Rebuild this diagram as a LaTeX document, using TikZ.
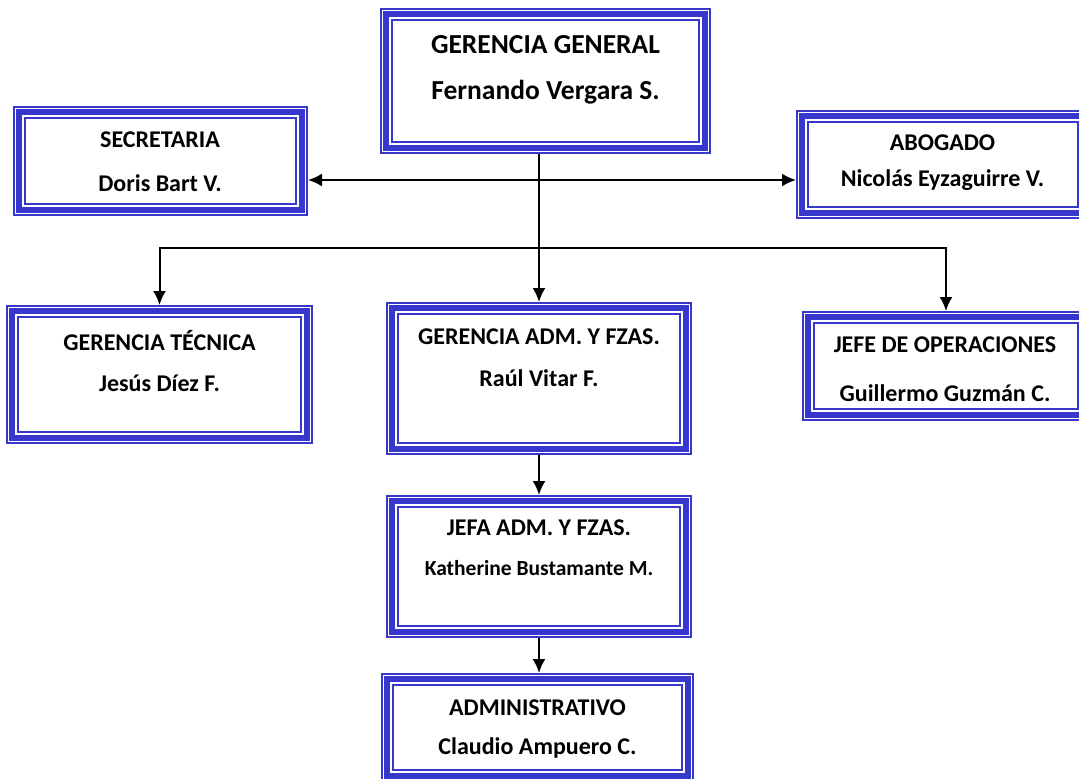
\documentclass[tikz,border=0pt]{standalone}
\usepackage{fontspec}
\setmainfont{Carlito}
\usetikzlibrary{arrows.meta}
\definecolor{azul}{RGB}{55,55,205}

\begin{document}
\begin{tikzpicture}[x=1pt, y=-1pt,
    marco/.style={draw=azul, line width=2pt, inner sep=0pt},
    cargo/.style={font=\bfseries\fontsize{24}{28}\selectfont, inner sep=0pt},
    mayor/.style={font=\bfseries\fontsize{27.5}{32}\selectfont, inner sep=0pt},
    menor/.style={font=\bfseries\fontsize{21.5}{26}\selectfont, inner sep=0pt},
    punta/.tip={Latex[length=14pt,width=13pt]},
    flecha/.style={line width=2pt, -punta}]

\useasboundingbox (0,0) rectangle (1079,779);
\clip (0,0) rectangle (1079,779);

% Cajas del organigrama
\node[marco, minimum width=329pt, minimum height=144pt] (gg) at (545.5,81) {};
\node[marco, minimum width=293pt, minimum height=108pt] (sec) at (160.5,161) {};
\node[marco, minimum width=292pt, minimum height=107pt] (abo) at (943,164.5) {};
\node[marco, minimum width=305pt, minimum height=137pt] (gt) at (159.5,374.5) {};
\node[marco, minimum width=304pt, minimum height=151pt] (ga) at (539,378.5) {};
\node[marco, minimum width=286pt, minimum height=108pt] (jo) at (946,366) {};
\node[marco, minimum width=304pt, minimum height=141pt] (jefa) at (539,566.5) {};
\node[marco, minimum width=311pt, minimum height=107pt] (adm) at (537.5,727.5) {};

% Bordes interiores
\foreach \n in {gg,sec,abo,gt,ga,jo,jefa,adm} {
    \draw[azul, line width=5.5pt] ([shift={(6,6)}]\n.north west) rectangle ([shift={(-6,-6)}]\n.south east);
    \draw[azul, line width=2pt] ([shift={(12,12)}]\n.north west) rectangle ([shift={(-12,-12)}]\n.south east);
}

% Textos
\node[mayor] (gg1) at (545.5,45) {GERENCIA GENERAL};
\node[mayor] (gg2) at (545.5,92) {Fernando Vergara S.};
\node[cargo] (sec1) at (160,140) {SECRETARIA};
\node[cargo] (sec2) at (160,183) {Doris Bart V.};
\node[cargo] (abo1) at (942.5,143) {ABOGADO};
\node[cargo] (abo2) at (942.5,180) {Nicolás Eyzaguirre V.};
\node[cargo] (gt1) at (159.5,340) {GERENCIA TÉCNICA};
\node[cargo] (gt2) at (159.5,383) {Jesús Díez F.};
\node[cargo] (ga1) at (539,337) {GERENCIA ADM. Y FZAS.};
\node[cargo] (ga2) at (539,378) {Raúl Vitar F.};
\node[cargo] (jo1) at (945,345) {JEFE DE OPERACIONES};
\node[cargo] (jo2) at (945,393) {Guillermo Guzmán C.};
\node[cargo] (jefa1) at (539,528) {JEFA ADM. Y FZAS.};
\node[menor] (jefa2) at (539,568) {Katherine Bustamante M.};
\node[cargo] (adm1) at (537.5,708) {ADMINISTRATIVO};
\node[cargo] (adm2) at (537.5,748) {Claudio Ampuero C.};

% Conectores
\coordinate (cruce) at (539,180);
\coordinate (rama) at (539,248);
\draw[flecha] (gg.south -| ga.north) -- (ga.north);
\draw[flecha, punta-punta] (sec.east |- cruce) -- (abo.west |- cruce);
\draw[flecha] (rama) -| (gt.north);
\draw[flecha] (rama) -| (jo.north);
\draw[flecha] (ga.south) -- (jefa.north);
\draw[flecha] (jefa.south) -- (jefa.south |- adm.north);

\end{tikzpicture}
\end{document}
